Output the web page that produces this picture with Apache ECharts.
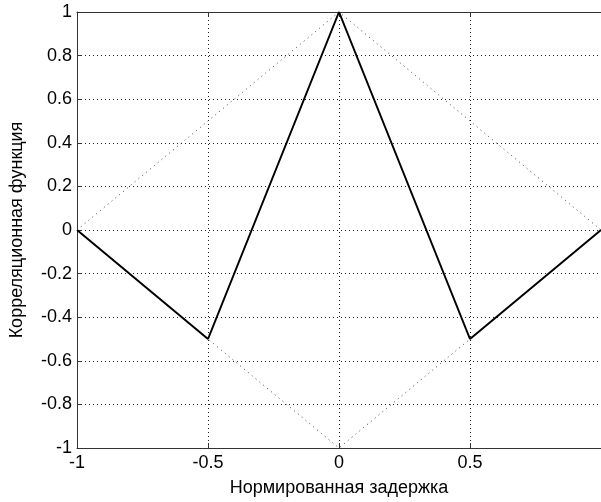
<!DOCTYPE html>
<html>
<head>
<meta charset="utf-8">
<script src="https://cdn.jsdelivr.net/npm/echarts@6/dist/echarts.min.js"></script>
<style>html,body{margin:0;padding:0;background:#fff;}#c{width:601px;height:502px;}</style>
</head>
<body>
<div id="c"></div>
<script>
var corrX = [-1, -0.5, 0, 0.5, 1];
var corrY = [0, -0.5, 1, -0.5, 0];
var diamondX = [-1, 0, 1, 0, -1];
var diamondY = [0, 1, 0, -1, 0];
var xTitle = 'Нормированная задержка';
var yTitle = 'Корреляционная функция';

function pairs(xs, ys) { return xs.map(function (x, i) { return [x, ys[i]]; }); }
var font = 'Liberation Sans, Arial, sans-serif';
var chart = echarts.init(document.getElementById('c'));
chart.setOption({
  animation: false,
  backgroundColor: '#fff',
  grid: { left: 74, right: -3, top: 12, bottom: 51 },
  xAxis: [{
    type: 'value', min: -1, max: 1, interval: 0.5, position: 'bottom',
    name: xTitle, nameLocation: 'middle', nameGap: 31,
    nameTextStyle: { color: '#000', fontSize: 18, fontFamily: font },
    axisLine: { onZero: false, lineStyle: { color: '#333', width: 1 } },
    axisTick: { inside: true, length: 5, lineStyle: { color: '#333' } },
    axisLabel: { color: '#000', fontSize: 18, fontFamily: font, margin: 6, showMaxLabel: false },
    splitLine: { show: true, lineStyle: { color: '#222', type: [1, 3], width: 1 } }
  }, {
    type: 'value', min: -1, max: 1, interval: 0.5, position: 'top',
    axisLine: { onZero: false, lineStyle: { color: '#333', width: 1 } },
    axisTick: { inside: true, length: 5, lineStyle: { color: '#333' } },
    axisLabel: { show: false },
    splitLine: { show: false }
  }],
  yAxis: {
    type: 'value', min: -1, max: 1, interval: 0.2,
    name: yTitle, nameLocation: 'middle', nameGap: 51, nameRotate: 90,
    nameTextStyle: { color: '#000', fontSize: 18, fontFamily: font },
    axisLine: { show: true, onZero: false, lineStyle: { color: '#333', width: 1 } },
    axisTick: { inside: true, length: 5, lineStyle: { color: '#333' } },
    axisLabel: { color: '#000', fontSize: 18, fontFamily: font, margin: 5,
      formatter: function (v) { return String(Math.round(v * 10) / 10); } },
    splitLine: { show: true, lineStyle: { color: '#222', type: [1, 3], width: 1 } }
  },
  series: [{
    type: 'line', data: pairs(diamondX, diamondY), symbol: 'none', silent: true,
    lineStyle: { color: '#444', width: 1, type: [1, 4] }
  }, {
    type: 'line', data: pairs(corrX, corrY), symbol: 'none',
    lineStyle: { color: '#000', width: 2 }
  }]
});
</script>
</body>
</html>
